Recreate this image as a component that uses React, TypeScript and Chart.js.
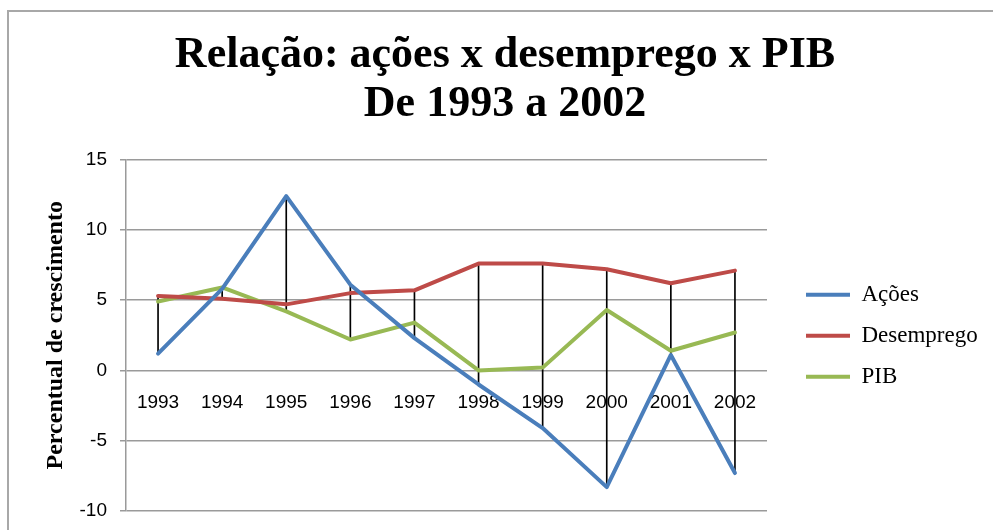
import React, { useEffect, useRef } from 'react';
import { Chart, registerables } from 'chart.js';

Chart.register(...registerables);

const categories = ['1993', '1994', '1995', '1996', '1997', '1998', '1999', '2000', '2001', '2002'];
const acoes = [1.2, 5.8, 12.4, 6.1, 2.3, -1.0, -4.1, -8.3, 1.1, -7.3];
const desemprego = [5.3, 5.1, 4.7, 5.5, 5.7, 7.6, 7.6, 7.2, 6.2, 7.1];
const pib = [4.9, 5.9, 4.2, 2.2, 3.4, 0.0, 0.2, 4.3, 1.4, 2.7];
const seriesNames = ['Ações', 'Desemprego', 'PIB'];
const seriesColors = ['#4a7ebb', '#be4b48', '#98b954'];
const titleLines = ['Relação: ações x desemprego x PIB', 'De 1993 a 2002'];
const yTitle = 'Percentual de crescimento';
const yMin = -10;
const yMax = 15;
const yStep = 5;

const highLow = categories.map((_, i) => {
  const v = [acoes[i], desemprego[i], pib[i]];
  return [Math.min(...v), Math.max(...v)];
});

const W = 993;
const H = 530;
const PAD_LEFT = 17;
const LEGEND_W = 226;
const LEGEND_PAD = 18;
const LEGEND_ITEM_OFFSET = 39;
const GRID = '#9a9a9a';

const legendPlacement = {
  id: 'legendPlacement',
  beforeLayout(chart: any) {
    const lg = chart.legend;
    if (lg && !lg._patchedFit) {
      const orig = lg.fit;
      lg.fit = function () {
        orig.call(this);
        this.width = LEGEND_W;
      };
      lg._patchedFit = true;
    }
  },
  afterLayout(chart: any) {
    const lg = chart.legend;
    if (!lg) return;
    const ca = chart.chartArea;
    const dx = ca.right + LEGEND_ITEM_OFFSET - (lg.left + LEGEND_PAD);
    lg.left += dx;
    lg.right += dx;
    lg.top = ca.top;
    lg.bottom = ca.bottom + 1;
    lg.height = lg.bottom - lg.top;
  },
};

export default function App() {
  const ref = useRef<HTMLCanvasElement | null>(null);

  useEffect(() => {
    if (!ref.current) return;
    const lineData = [acoes, desemprego, pib];
    const chart = new Chart(ref.current, {
      type: 'line',
      data: {
        labels: categories,
        datasets: [
          ...lineData.map((d, i) => ({
            type: 'line' as const,
            label: seriesNames[i],
            data: d,
            borderColor: seriesColors[i],
            backgroundColor: seriesColors[i],
            borderWidth: 4,
            pointRadius: 0,
            pointHoverRadius: 0,
            tension: 0,
            borderJoinStyle: 'round' as const,
            borderCapStyle: 'round' as const,
            order: 1,
          })),
          {
            type: 'bar' as const,
            label: 'high-low',
            data: highLow as any,
            backgroundColor: '#000000',
            borderWidth: 0,
            barThickness: 1,
            order: 2,
          },
        ],
      },
      options: {
        responsive: false,
        animation: false,
        devicePixelRatio: 1,
        layout: { padding: { left: PAD_LEFT, right: 0, top: 0, bottom: 19 } },
        plugins: {
          tooltip: { enabled: false },
          title: {
            display: true,
            text: titleLines,
            color: '#000000',
            font: { family: 'Liberation Serif', size: 44, weight: 'bold', lineHeight: 1.12 },
            padding: { top: 31, bottom: 30 },
          },
          legend: {
            position: 'right',
            labels: {
              boxWidth: 44,
              boxHeight: 4,
              padding: LEGEND_PAD,
              color: '#000000',
              font: { family: 'Liberation Serif', size: 23 },
              generateLabels: (c: any) =>
                c.data.datasets
                  .map((ds: any, i: number) => ({ ds, i }))
                  .filter((o: any) => o.ds.type === 'line')
                  .map((o: any) => ({
                    text: o.ds.label,
                    fillStyle: o.ds.borderColor,
                    strokeStyle: o.ds.borderColor,
                    lineWidth: 0,
                    hidden: false,
                    datasetIndex: o.i,
                    fontColor: '#000000',
                  })),
            },
          },
        },
        scales: {
          x: {
            type: 'category',
            position: { y: 0 } as any,
            offset: true,
            grid: { display: false, drawTicks: false },
            border: { display: false },
            ticks: {
              color: '#000000',
              font: { family: 'Liberation Sans', size: 19 },
              padding: 21,
              autoSkip: false,
              maxRotation: 0,
            },
          },
          y: {
            min: yMin,
            max: yMax,
            afterFit: (scale: any) => {
              scale.width = 126 - PAD_LEFT;
              scale.paddingTop = 0;
              scale.paddingBottom = 0;
            },
            grid: { color: GRID, lineWidth: 1.5, drawTicks: true, tickLength: 6, tickColor: GRID },
            border: { display: true, color: GRID, width: 1.5 },
            ticks: {
              stepSize: yStep,
              color: '#000000',
              font: { family: 'Liberation Sans', size: 19 },
              padding: 13,
            },
            title: {
              display: true,
              text: yTitle,
              color: '#000000',
              font: { family: 'Liberation Serif', size: 24, weight: 'bold' },
              padding: { top: 56 - PAD_LEFT - 14.4, bottom: 0 },
            },
          },
        },
      },
      plugins: [legendPlacement],
    } as any);
    return () => chart.destroy();
  }, []);

  return (
    <div style={{ position: 'absolute', left: 0, top: 0, width: W, height: H, overflow: 'hidden', background: '#ffffff' }}>
      <div
        style={{
          position: 'absolute',
          left: 7,
          top: 10,
          width: 1200,
          height: 800,
          border: '2px solid #a8a8a8',
          boxSizing: 'border-box',
        }}
      />
      <canvas ref={ref} width={W} height={H} style={{ position: 'absolute', left: 0, top: 0, display: 'block' }} />
    </div>
  );
}
